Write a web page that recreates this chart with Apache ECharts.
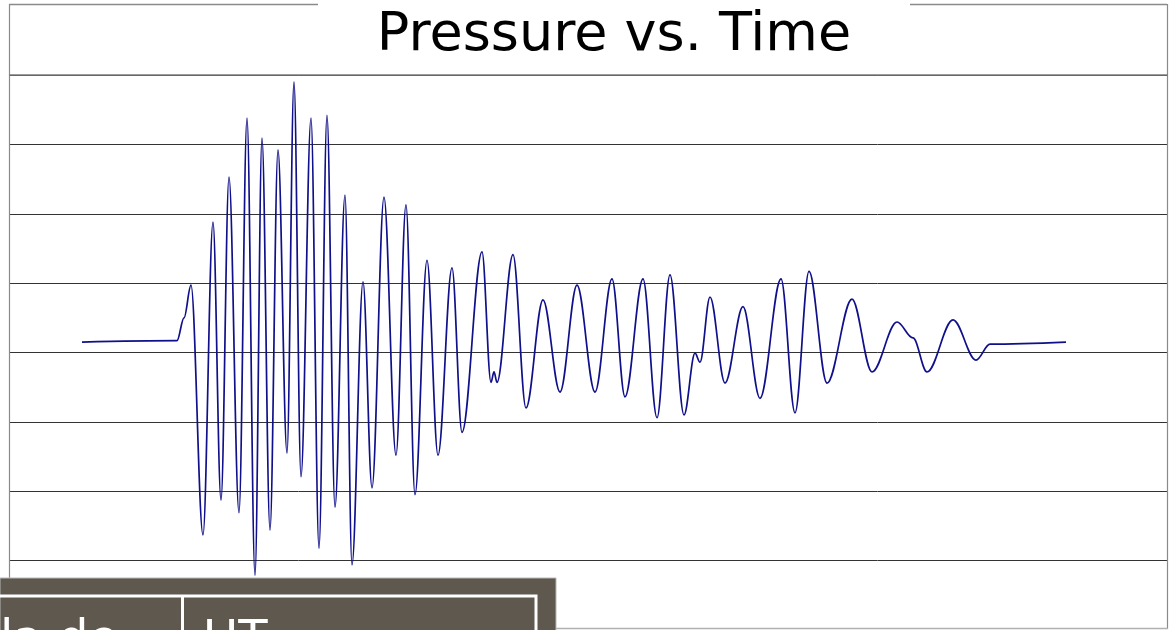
<!DOCTYPE html>
<html>
<head>
<meta charset="utf-8">
<script src="https://cdn.jsdelivr.net/npm/echarts@6/dist/echarts.min.js"></script>
<style>
html,body{margin:0;padding:0;background:#fff;}
#chart{width:1169px;height:630px;}
</style>
</head>
<body>
<div id="chart"></div>
<script>
// Time (samples) and pressure (arbitrary units)
var timeSamples = [73, 168, 175, 182, 194, 204, 212, 220, 230, 238, 246, 253, 261, 269, 278, 285, 292, 302, 310, 318, 326, 336, 343, 354, 363, 375, 387, 397, 406, 418, 429, 443, 453, 473, 482, 485, 488, 504, 517, 534, 551, 568, 586, 603, 616, 634, 648, 661, 675, 686, 691, 701, 716, 734, 751, 772, 786, 800, 818, 843, 863, 888, 904, 918, 944, 967, 981, 1057];
var pressure = [0.15, 0.17, 0.50, 0.97, -2.63, 1.88, -2.13, 2.53, -2.31, 3.38, -3.21, 3.09, -2.56, 2.92, -1.45, 3.90, -1.79, 3.38, -2.82, 3.42, -2.23, 2.27, -3.06, 1.02, -1.95, 2.24, -1.48, 2.13, -2.05, 1.33, -1.48, 1.22, -1.15, 1.45, -0.43, -0.28, -0.43, 1.41, -0.80, 0.76, -0.57, 0.97, -0.57, 1.06, -0.64, 1.06, -0.94, 1.12, -0.90, -0.01, -0.14, 0.80, -0.44, 0.66, -0.66, 1.06, -0.87, 1.17, -0.44, 0.77, -0.28, 0.44, 0.21, -0.28, 0.47, -0.11, 0.12, 0.15];
var yTicks = [-4, -3, -2, -1, 0, 1, 2, 3, 4];
var titleText = 'Pressure vs. Time';
var tableCells = ['la de', 'UT'];

var seriesData = timeSamples.map(function (t, i) { return [t, pressure[i]]; });

var chart = echarts.init(document.getElementById('chart'), null, {renderer: 'canvas'});
var frameColor = '#8a8a8a';
chart.setOption({
  animation: false,
  backgroundColor: '#ffffff',
  grid: {left: 9, right: 2, top: 75, bottom: 0, containLabel: false},
  xAxis: {
    type: 'value', min: 0, max: 1158,
    axisLine: {show: false}, axisTick: {show: false}, axisLabel: {show: false}, splitLine: {show: false}
  },
  yAxis: {
    type: 'value', min: yTicks[0], max: yTicks[yTicks.length - 1], interval: 1,
    axisLine: {show: false}, axisTick: {show: false}, axisLabel: {show: false},
    splitLine: {show: true, lineStyle: {color: '#333333', width: 1}}
  },
  series: [{
    type: 'line',
    data: seriesData,
    showSymbol: false,
    smooth: 0.35,
    smoothMonotone: 'x',
    lineStyle: {color: '#10108a', width: 1.7},
    z: 3
  }],
  graphic: [
    {type: 'line', z: 50, shape: {x1: 9, y1: 4.5, x2: 318, y2: 4.5}, style: {stroke: frameColor, lineWidth: 1.5}},
    {type: 'line', z: 50, shape: {x1: 910, y1: 4.5, x2: 1167, y2: 4.5}, style: {stroke: frameColor, lineWidth: 1.5}},
    {type: 'line', z: 50, shape: {x1: 9.5, y1: 4, x2: 9.5, y2: 578}, style: {stroke: frameColor, lineWidth: 1.2}},
    {type: 'line', z: 50, shape: {x1: 1167.5, y1: 4, x2: 1167.5, y2: 629}, style: {stroke: frameColor, lineWidth: 1.2}},
    {type: 'line', z: 50, shape: {x1: 9, y1: 75, x2: 1168, y2: 75}, style: {stroke: '#7a7a7a', lineWidth: 1.5}},
    {type: 'line', z: 50, shape: {x1: 556, y1: 628.5, x2: 1168, y2: 628.5}, style: {stroke: '#b0b0b0', lineWidth: 1.5}},
    {type: 'text', z: 50, style: {text: titleText, x: 614, y: 36, textAlign: 'center', textVerticalAlign: 'middle', font: '54px "DejaVu Sans"', fill: '#000000'}},
    {type: 'rect', z: 60, shape: {x: 0, y: 578, width: 556, height: 60}, style: {fill: '#5f584e', stroke: '#b8b8b8', lineWidth: 1}},
    {type: 'rect', z: 61, shape: {x: -10, y: 596, width: 546, height: 60}, style: {fill: 'none', stroke: '#ffffff', lineWidth: 3}},
    {type: 'line', z: 61, shape: {x1: 182.5, y1: 596, x2: 182.5, y2: 640}, style: {stroke: '#ffffff', lineWidth: 3}},
    {type: 'text', z: 62, style: {text: tableCells[0], x: 0, y: 666, textAlign: 'left', textVerticalAlign: 'bottom', font: '48px "DejaVu Sans"', fill: '#ffffff'}},
    {type: 'text', z: 62, style: {text: tableCells[1], x: 203, y: 666, textAlign: 'left', textVerticalAlign: 'bottom', font: '48px "DejaVu Sans"', fill: '#ffffff'}}
  ]
});
</script>
</body>
</html>
